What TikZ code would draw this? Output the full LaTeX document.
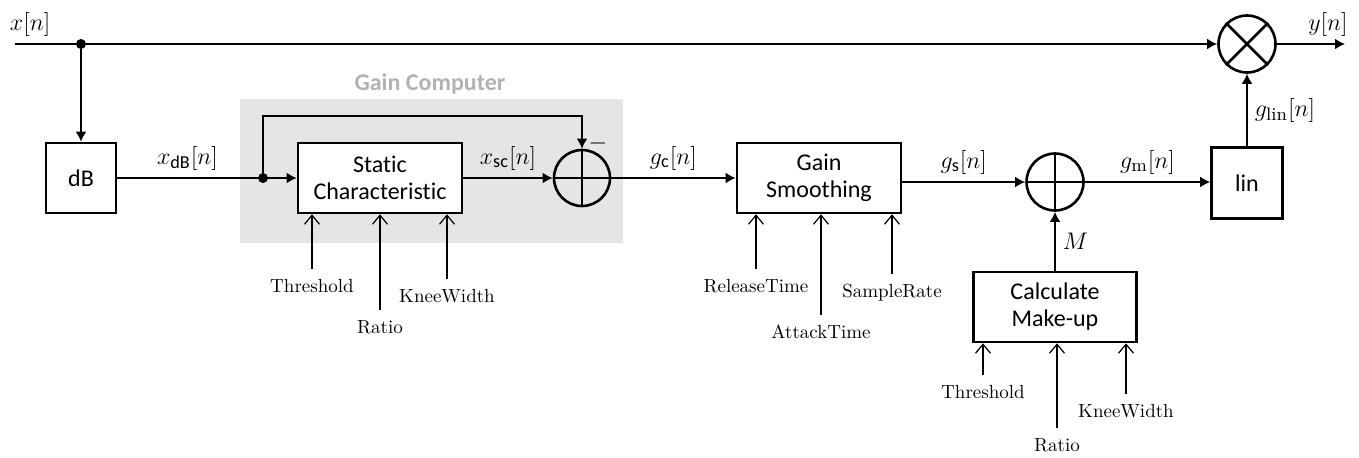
\documentclass[tikz,border=0pt]{standalone}
\usepackage{amsmath}
\usepackage{fontspec}
\setsansfont[Ligatures=NoCommon]{Carlito}
\usetikzlibrary{positioning, arrows.meta}

\begin{document}
\begin{tikzpicture}[x=0.5pt, y=-0.5pt,
    block/.style={draw, line width=1.3pt, fill=white, align=center, minimum height=35pt,
      font=\sffamily\fontsize{12}{13.5}\selectfont},
    sumjunc/.style={draw, circle, line width=1.3pt, minimum size=28.5pt, inner sep=0pt},
    junction/.style={circle, fill, inner sep=0pt, minimum size=5pt},
    sig/.style={line width=1.3pt},
    sigarrow/.style={sig, -{Latex[length=5pt, width=5.5pt]}},
    parin/.style={line width=0.6pt, -{Straight Barb[length=4.5pt, width=7.5pt]}, shorten <=4pt},
    parname/.style={font=\fontsize{9.5}{11}\selectfont, inner sep=1pt},
    siglabel/.style={font=\fontsize{13}{15}\selectfont}]
  \useasboundingbox (0,0) rectangle (1359,457);

  % gain computer background
  \fill[gray!20] (240,99) rectangle (623,243);
  \node[text=gray!60, font=\sffamily\bfseries\fontsize{12}{14}\selectfont] (gctitle) at (430,84) {Gain Computer};

  % blocks
  \node[block, minimum width=35pt] (dB) at (81,178) {dB};
  \node[block, minimum width=82pt] (static) at (380,178) {Static\\Characteristic};
  \node[sumjunc, minimum size=28pt] (sum1) at (582,178) {};
  \node[block, minimum width=82pt] (smooth) at (819,178) {Gain\\Smoothing};
  \node[sumjunc] (sum2) at (1055,182) {};
  \node[block, minimum width=35.5pt, minimum height=35.5pt] (lin) at (1247,183) {lin};
  \node[sumjunc] (mult) at (1247,44) {};
  \node[block, minimum width=81.5pt] (makeup) at (1055,307) {Calculate\\Make-up};

  \draw[line width=1.3pt] (sum1.north) -- (sum1.south) (sum1.west) -- (sum1.east);
  \draw[line width=1.3pt] (sum2.north) -- (sum2.south) (sum2.west) -- (sum2.east);
  \draw[line width=1.3pt] (mult.north west) -- (mult.south east) (mult.north east) -- (mult.south west);

  % junctions and free ends
  \coordinate (xin) at (15,44);
  \coordinate (yout) at (1345,44);
  \node[junction] (split1) at (81,44) {};
  \node[junction] (split2) at (263,178) {};
  \coordinate (fbtop) at (263,116);
  \node[font=\fontsize{12}{14}\selectfont] (minus) at (598,143) {$-$};

  % signal path
  \draw[sig] (xin) -- node[siglabel, above, pos=0.25] {$x[n]$} (split1);
  \draw[sigarrow] (split1) -- (mult.west);
  \draw[sigarrow] (split1) -- (dB.north);
  \draw[sig] (dB.east) -- node[siglabel, above] {$x_{\textsf{dB}}[n]$} (split2);
  \draw[sigarrow] (split2) -- (static.west);
  \draw[sigarrow] (split2) -- (fbtop) -| (sum1.north);
  \draw[sigarrow] (static.east) -- node[siglabel, above] {$x_{\textsf{sc}}[n]$} (sum1.west);
  \draw[sigarrow] (sum1.east) -- node[siglabel, above] {$g_{\textsf{c}}[n]$} (smooth.west |- sum1);
  \draw[sigarrow] (smooth.east |- sum2) -- node[siglabel, above] {$g_{\textsf{s}}[n]$} (sum2.west);
  \draw[sigarrow] (sum2.east) -- node[siglabel, above] {$g_{\mathrm{m}}[n]$} (lin.west |- sum2);
  \draw[sigarrow] (lin.north) -- node[siglabel, right] {$g_{\mathrm{lin}}[n]$} (mult.south);
  \draw[sigarrow] (makeup.north) -- node[siglabel, right] {$M$} (sum2.south);
  \draw[sigarrow] (mult.east) -- node[siglabel, above, pos=0.75] {$y[n]$} (yout);

  % parameters
  \node[parname] (scthresh) at (312,286) {Threshold};
  \node[parname] (scratio) at (380,327) {Ratio};
  \node[parname] (scknee) at (447,296) {KneeWidth};
  \node[parname] (release) at (756,286) {ReleaseTime};
  \node[parname] (attack) at (821,332) {AttackTime};
  \node[parname] (srate) at (892,293) {SampleRate};
  \node[parname] (mkthresh) at (983,392) {Threshold};
  \node[parname] (mkratio) at (1057,445) {Ratio};
  \node[parname] (mkknee) at (1126,411) {KneeWidth};

  \draw[parin] (scthresh.north) -- (scthresh.north |- static.south);
  \draw[parin] (scratio.north) -- (scratio.north |- static.south);
  \draw[parin] (scknee.north) -- (scknee.north |- static.south);
  \draw[parin] (release.north) -- (release.north |- smooth.south);
  \draw[parin] (attack.north) -- (attack.north |- smooth.south);
  \draw[parin] (srate.north) -- (srate.north |- smooth.south);
  \draw[parin] (mkthresh.north) -- (mkthresh.north |- makeup.south);
  \draw[parin] (mkratio.north) -- (mkratio.north |- makeup.south);
  \draw[parin] (mkknee.north) -- (mkknee.north |- makeup.south);
\end{tikzpicture}
\end{document}
